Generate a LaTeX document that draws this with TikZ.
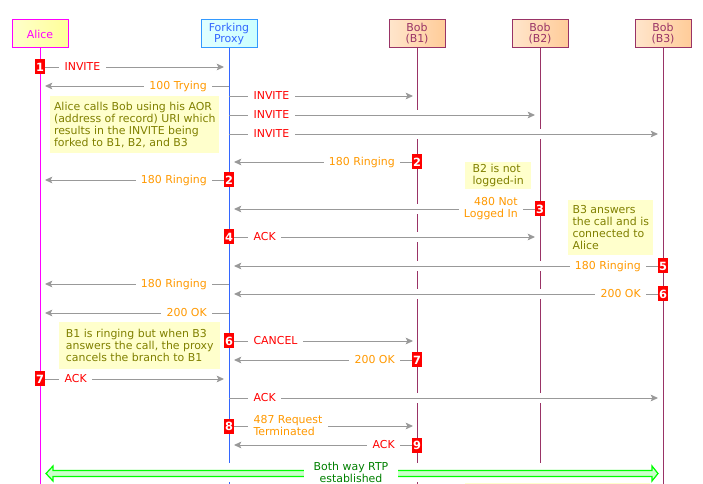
\documentclass[tikz,border=0pt]{standalone}
\usepackage{fontspec}
\setmainfont{DejaVu Sans}
\usetikzlibrary{arrows.meta,calc}
\definecolor{linegray}{HTML}{999999}
\definecolor{reqred}{HTML}{FF0000}
\definecolor{rsporange}{HTML}{FF9900}
\definecolor{notefill}{HTML}{FFFFCC}
\definecolor{notetext}{HTML}{808000}
\definecolor{alicecol}{HTML}{FF00FF}
\definecolor{proxyline}{HTML}{3366FF}
\definecolor{proxyborder}{HTML}{3399FF}
\definecolor{proxyfill}{HTML}{CCFFFF}
\definecolor{bobcol}{HTML}{993366}
\definecolor{bobfill}{HTML}{FFCC99}
\definecolor{alicefill}{HTML}{FFFF99}
\definecolor{rtpgreen}{HTML}{00FF00}
\definecolor{rtpfill}{HTML}{CCFFCC}
\definecolor{rtptext}{HTML}{008000}
\newcommand\rmsg[6]{%
  \coordinate (#1s) at (#2,#4);
  \coordinate (#1t) at (#3,#4);
  \draw[msg] (#1s) -- (#1t);
  \node[lbl,#5,anchor=west] (#1l) at ([xshift=14.25pt]#1s) {#6};
}
\newcommand\lmsg[6]{%
  \coordinate (#1s) at (#2,#4);
  \coordinate (#1t) at (#3,#4);
  \draw[msg] (#1s) -- (#1t);
  \node[lbl,#5,anchor=east] (#1l) at ([xshift=-12.5pt]#1s) {#6};
}
\begin{document}
\begin{tikzpicture}[x=0.75pt,y=-0.75pt,
  every node/.style={font=\fontsize{8.2}{9}\selectfont},
  msg/.style={draw=linegray, line width=0.7pt, -{Stealth[length=5.5pt,width=5pt,inset=1.2pt]}},
  lbl/.style={fill=white, inner xsep=4pt, inner ysep=0.5pt},
  req/.style={text=reqred},
  rsp/.style={text=rsporange},
  badge/.style={fill=reqred, text=white, font=\fontsize{8.5}{9}\selectfont\bfseries,
    minimum width=7.5pt, minimum height=11.25pt, inner sep=0pt},
  note/.style={fill=notefill, text=notetext, align=left, inner sep=0pt, anchor=north west},
  hdr/.style={draw, line width=0.75pt, minimum width=42pt, minimum height=21pt,
    inner sep=0pt, align=center, font=\fontsize{8.2}{8.3}\selectfont},
  life/.style={line width=0.75pt},
  gap/.style={fill=white},
  rtp/.style={draw=rtpgreen, fill=rtpfill, line width=0.9pt},
]
\useasboundingbox (0,0) rectangle (703,484);

% headers
\node[hdr, draw=alicecol, left color=notefill, right color=alicefill, text=alicecol] (alice) at (40,34) {Alice};
\node[hdr, draw=proxyborder, left color=proxyfill!60, right color=proxyfill, text=proxyline] (proxy) at (229,34) {Forking\\Proxy};
\node[hdr, draw=bobcol, left color=bobfill!50, right color=bobfill, text=bobcol] (b1) at (417,34) {Bob\\(B1)};
\node[hdr, draw=bobcol, left color=bobfill!50, right color=bobfill, text=bobcol] (b2) at (540,34) {Bob\\(B2)};
\node[hdr, draw=bobcol, left color=bobfill!50, right color=bobfill, text=bobcol] (b3) at (663,34) {Bob\\(B3)};

% lifelines
\coordinate (aliceEnd) at (40,484);
\coordinate (proxyEnd) at (229,463);
\coordinate (b1End) at (417,463);
\coordinate (b2End) at (540,463);
\coordinate (b3End) at (663,484);
\draw[life, alicecol] (alice.south) -- (aliceEnd);
\draw[life, proxyline] (proxy.south) -- (proxyEnd);
\draw[life, bobcol] (b1.south) -- (b1End);
\draw[life, bobcol] (b2.south) -- (b2End);
\draw[life, bobcol] (b3.south) -- (b3End);
\draw[life, proxyline] (229,482) -- (229,485);
\draw[life, bobcol] (417,482) -- (417,485);

% lifeline gaps where messages cross
\fill[gap] (415,110) rectangle (419,139);
\fill[gap] (538,129) rectangle (542,139);
\foreach \yy in {209,237,266,294,398} {
  \fill[gap] (415,\yy-5) rectangle (419,\yy+5);
}
\foreach \yy in {266,294,398} {
  \fill[gap] (538,\yy-5) rectangle (542,\yy+5);
}

% notes
\node[note, minimum width=126.75pt, minimum height=42.75pt] (n1) at (50,96)
  {Alice calls Bob using his AOR\\(address of record) URI which\\results in the INVITE being\\forked to B1, B2, and B3};
\node[note, minimum width=49.5pt, minimum height=20.25pt] (n2) at (465,162)
  {B2 is not\\logged-in};
\node[note, minimum width=63.75pt, minimum height=41.25pt] (n3) at (568,200)
  {B3 answers\\the call and is\\connected to\\Alice};
\node[note, minimum width=120.75pt, minimum height=35.25pt] (n4) at (59,322)
  {B1 is ringing but when B3\\answers the call, the proxy\\cancels the branch to B1};
\fill[notefill] (465,483) rectangle (650,486);

% messages
\rmsg{m1}{40}{224}{67}{req}{INVITE}
\lmsg{m2}{229}{45}{86}{rsp}{100 Trying}
\rmsg{m3}{229}{413}{96}{req}{INVITE}
\rmsg{m4}{229}{535}{115}{req}{INVITE}
\rmsg{m5}{229}{658}{134}{req}{INVITE}
\lmsg{m6}{417}{234}{162}{rsp}{180 Ringing}
\lmsg{m7}{229}{45}{180}{rsp}{180 Ringing}
\lmsg{m8}{540}{234}{209}{rsp,align=right}{480 Not\\Logged In}
\rmsg{m9}{229}{535}{237}{req}{ACK}
\lmsg{m10}{663}{234}{266}{rsp}{180 Ringing}
\lmsg{m11}{229}{45}{284}{rsp}{180 Ringing}
\lmsg{m12}{663}{234}{294}{rsp}{200 OK}
\lmsg{m13}{229}{45}{313}{rsp}{200 OK}
\rmsg{m14}{229}{413}{341}{req}{CANCEL}
\lmsg{m15}{417}{234}{360}{rsp}{200 OK}
\rmsg{m16}{40}{224}{379}{req}{ACK}
\rmsg{m17}{229}{658}{398}{req}{ACK}
\rmsg{m18}{229}{413}{426}{rsp,align=left}{487 Request\\Terminated}
\lmsg{m19}{417}{234}{445}{req}{ACK}

% badges
\node[badge] (k1) at (m1s) {1};
\node[badge] (k2a) at (m6s) {2};
\node[badge] (k2b) at (m7s) {2};
\node[badge] (k3) at (m8s) {3};
\node[badge] (k4) at (m9s) {4};
\node[badge] (k5) at (m10s) {5};
\node[badge] (k6a) at (m12s) {6};
\node[badge] (k6b) at (m14s) {6};
\node[badge] (k7a) at (m15s) {7};
\node[badge] (k7b) at (m16s) {7};
\node[badge] (k8) at (m18s) {8};
\node[badge] (k9) at (m19s) {9};

% RTP
\coordinate (rtpL) at (46,473.5);
\coordinate (rtpR) at (658,473.5);
\draw[rtp] (rtpL) -- ++(7,-7.5) -- ++(0,4.5) -- ($(rtpR)+(-6,-3)$) -- ++(0,-4.5)
  -- (rtpR) -- ++(-6,7.5) -- ++(0,-4.5) -- ($(rtpL)+(7,3)$) -- ++(0,4.5) -- cycle;
\node[fill=white, text=rtptext, align=center, inner xsep=7pt, inner ysep=0pt] (rtpl) at (351,472.5)
  {Both way RTP\\established};
\end{tikzpicture}
\end{document}
